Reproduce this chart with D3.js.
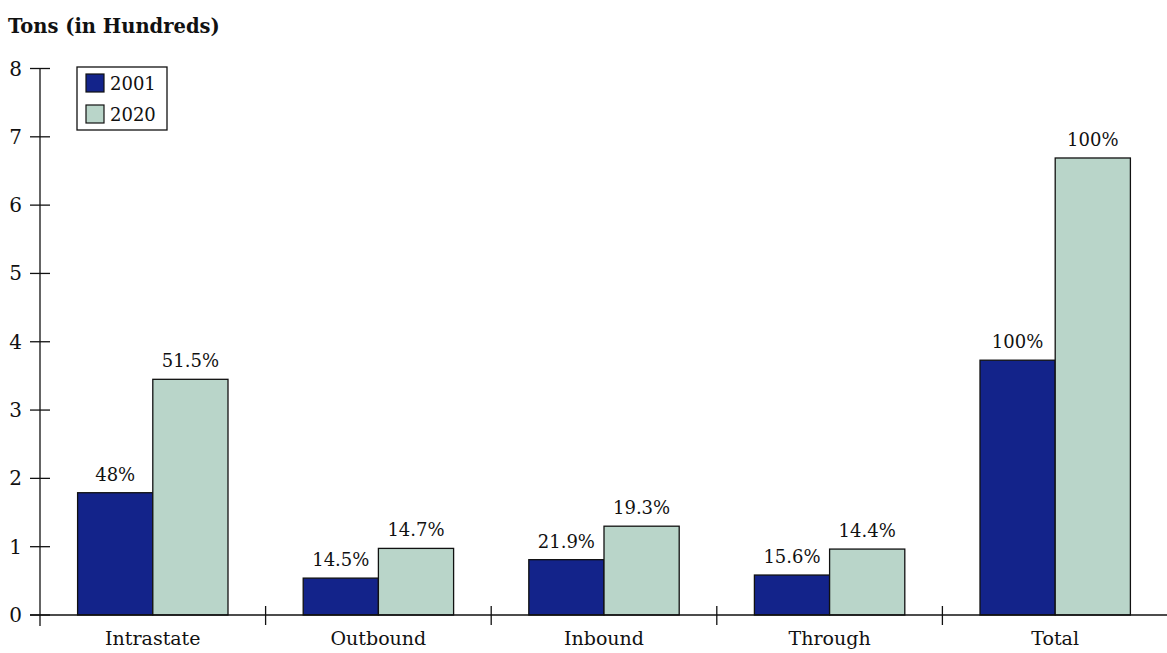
<!DOCTYPE html>
<html><head><meta charset="utf-8">
<script src="https://cdn.jsdelivr.net/npm/d3@7"></script>
<style>body{margin:0;background:#fff}svg{display:block}text{font-family:"DejaVu Serif","Liberation Serif",serif;fill:#111}</style>
</head><body><svg id="c" width="1167" height="653"></svg>
<script>
const categories = ["Intrastate","Outbound","Inbound","Through","Total"];
const series = ["2001","2020"];
const values2001 = [1.79,0.54,0.81,0.585,3.73];
const values2020 = [3.45,0.975,1.30,0.965,6.69];
const labels2001 = ["48%","14.5%","21.9%","15.6%","100%"];
const labels2020 = ["51.5%","14.7%","19.3%","14.4%","100%"];
const yTicks = [0,1,2,3,4,5,6,7,8];
const colors = ["#13238a","#b9d5c9"];

const svg = d3.select("#c");
const x = d3.scaleBand().domain(categories).range([40,1168]).padding(0);
const y = d3.scaleLinear().domain([0,8]).range([615,68.5]);
const inner = d3.scaleBand().domain(series).range([0,x.bandwidth()]).paddingInner(0).paddingOuter(0.5);

// bars
const data = categories.map((c,i)=>({c, v:[values2001[i],values2020[i]], l:[labels2001[i],labels2020[i]]}));
const g = svg.selectAll("g.cat").data(data).join("g").attr("transform",d=>`translate(${x(d.c)},0)`);
series.forEach((s,si)=>{
  g.append("rect").attr("x",inner(s)).attr("width",inner.bandwidth())
    .attr("y",d=>y(d.v[si])).attr("height",d=>y(0)-y(d.v[si]))
    .attr("fill",colors[si]).attr("stroke","#111").attr("stroke-width",1.3);
  g.append("text").attr("x",inner(s)+inner.bandwidth()/2).attr("y",d=>y(d.v[si])-12)
    .attr("text-anchor","middle").attr("font-size",18).text(d=>d.l[si]);
});

// y axis
const ya = svg.append("g");
ya.append("line").attr("x1",40).attr("x2",40).attr("y1",y(8)).attr("y2",626).attr("stroke","#111").attr("stroke-width",1.3);
ya.selectAll("line.t").data(yTicks).join("line").attr("class","t").attr("x1",30).attr("x2",50)
  .attr("y1",d=>y(d)).attr("y2",d=>y(d)).attr("stroke","#111").attr("stroke-width",1.3);
ya.selectAll("text").data(yTicks).join("text").attr("x",22).attr("y",d=>y(d)+7)
  .attr("text-anchor","end").attr("font-size",20).text(d=>d);

// x axis
const xa = svg.append("g");
xa.append("line").attr("x1",30).attr("x2",1167).attr("y1",y(0)).attr("y2",y(0)).attr("stroke","#111").attr("stroke-width",1.3);
xa.selectAll("line.t").data(categories.slice(1)).join("line").attr("class","t")
  .attr("x1",d=>x(d)).attr("x2",d=>x(d)).attr("y1",y(0)-9).attr("y2",y(0)+10).attr("stroke","#111").attr("stroke-width",1.3);
xa.selectAll("text").data(categories).join("text").attr("x",d=>x(d)+x.bandwidth()/2).attr("y",645)
  .attr("text-anchor","middle").attr("font-size",19).text(d=>d);

// title
svg.append("text").attr("x",8).attr("y",33).attr("font-size",19.5).attr("font-weight","bold").text("Tons (in Hundreds)");

// legend
const lg = svg.append("g");
lg.append("rect").attr("x",77).attr("y",67).attr("width",90).attr("height",63).attr("fill","#fff").attr("stroke","#111").attr("stroke-width",1.3);
series.forEach((s,i)=>{
  lg.append("rect").attr("x",86).attr("y",74+i*31).attr("width",18).attr("height",18).attr("fill",colors[i]).attr("stroke","#111").attr("stroke-width",1.2);
  lg.append("text").attr("x",110).attr("y",90+i*31).attr("font-size",18).text(s);
});
</script></body></html>
